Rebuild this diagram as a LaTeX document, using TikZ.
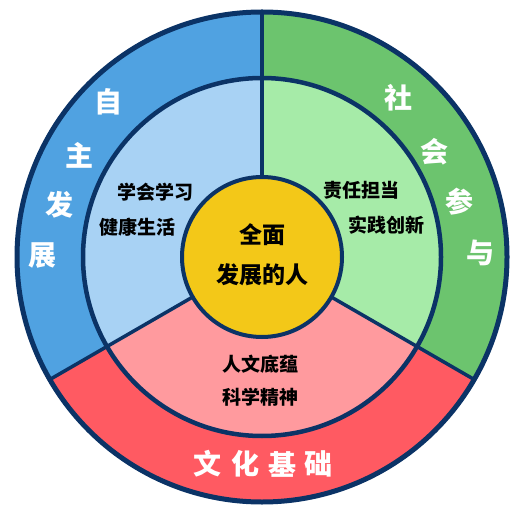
\documentclass[tikz,border=0pt]{standalone}
\usepackage{fontspec}
\newfontfamily\cjk{Noto Sans CJK SC}
\definecolor{oblue}{HTML}{50A2E1}
\definecolor{iblue}{HTML}{A8D2F4}
\definecolor{ogreen}{HTML}{6CC46E}
\definecolor{igreen}{HTML}{A6EBA8}
\definecolor{ored}{HTML}{FF5A62}
\definecolor{ired}{HTML}{FF9A9E}
\definecolor{cyellow}{HTML}{F3C818}
\definecolor{navy}{HTML}{0B3366}
\tikzset{
  ring/.style={draw=navy, line width=5pt},
  divider/.style={draw=navy, line width=3.5pt},
  outertxt/.style={text=white, font=\cjk\bfseries\fontsize{28}{28}\selectfont, inner sep=0pt},
  innertxt/.style={text=black, font=\cjk\bfseries\fontsize{19}{19}\selectfont, inner sep=0pt},
  centertxt/.style={text=black, font=\cjk\bfseries\fontsize{23}{23}\selectfont, inner sep=0pt}
}
\begin{document}
\begin{tikzpicture}[x=1pt,y=1pt]
\useasboundingbox (0,0) rectangle (524,509);
\coordinate (c) at (262,252);
% outer sectors
\fill[oblue] (c) -- ++(90:245) arc[start angle=90, end angle=210, radius=245] -- cycle;
\fill[ored] (c) -- ++(210:245) arc[start angle=210, end angle=330, radius=245] -- cycle;
\fill[ogreen] (c) -- ++(330:245) arc[start angle=-30, end angle=90, radius=245] -- cycle;
% inner sectors
\fill[iblue] (c) -- ++(90:179) arc[start angle=90, end angle=210, radius=179] -- cycle;
\fill[ired] (c) -- ++(210:179) arc[start angle=210, end angle=330, radius=179] -- cycle;
\fill[igreen] (c) -- ++(330:179) arc[start angle=-30, end angle=90, radius=179] -- cycle;
% dividers
\draw[divider] (c) -- ++(90:245) coordinate (t1);
\draw[divider] (c) -- ++(210:245) coordinate (t2);
\draw[divider] (c) -- ++(330:245) coordinate (t3);
% circles
\draw[ring] (c) circle[radius=245];
\draw[ring, line width=4.5pt] (c) circle[radius=179];
\node[circle, fill=cyellow, draw=navy, line width=4pt, minimum size=160pt, inner sep=0pt] (core) at (c) {};
% center text
\node[centertxt] (q1) at (262,274) {全面};
\node[centertxt] (q2) at (262,234) {发展的人};
% inner texts
\node[innertxt] (b1) at (155,317) {学会学习};
\node[innertxt] (b2) at (137,282) {健康生活};
\node[innertxt] (g1) at (361,319) {责任担当};
\node[innertxt] (g2) at (386,284) {实践创新};
\node[innertxt] (r1) at (260,145) {人文底蕴};
\node[innertxt] (r2) at (260,112) {科学精神};
% outer texts
\node[outertxt] (z1) at (108,407) {自};
\node[outertxt] (z2) at (79,354) {主};
\node[outertxt] (z3) at (59,304) {发};
\node[outertxt] (z4) at (42,253) {展};
\node[outertxt] (s1) at (398,411) {社};
\node[outertxt] (s2) at (434,357) {会};
\node[outertxt] (s3) at (459,307) {参};
\node[outertxt] (s4) at (480,256) {与};
\node[outertxt] (w1) at (207,45) {文};
\node[outertxt] (w2) at (245,45) {化};
\node[outertxt] (w3) at (282,45) {基};
\node[outertxt] (w4) at (318,45) {础};
\end{tikzpicture}
\end{document}
